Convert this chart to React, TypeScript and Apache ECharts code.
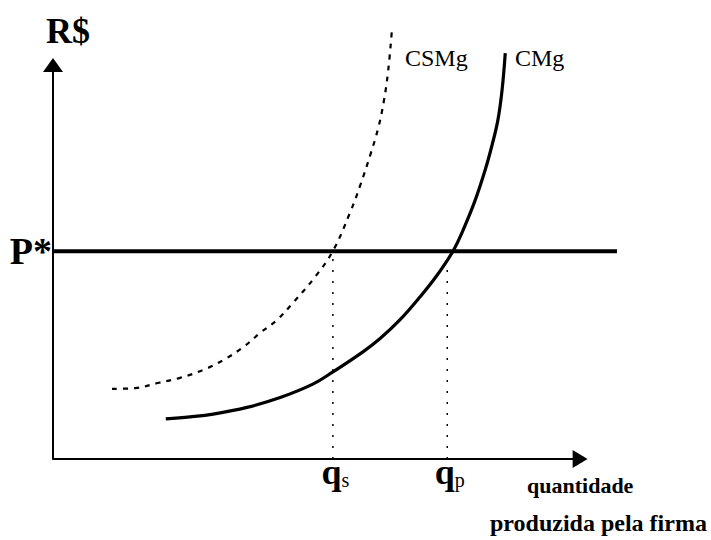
import React, { useEffect, useRef } from "react";
import * as echarts from "echarts";

// ---- data (abstract units) ----
const csmgX = [11.2, 15.6, 19.9, 24.1, 28.5, 32.3, 35.9, 39.3, 42.5, 45.5, 49.7, 53.1, 56.4, 58.3, 60.2, 61.7, 62.8, 63.6, 64.3];
const csmgY = [17.8, 18.0, 19.3, 20.6, 22.6, 25.1, 28.2, 32.0, 35.3, 39.6, 46.2, 52.8, 62.7, 69.5, 77.2, 84.0, 91.1, 98.7, 108.9];
const cmgX = [21.4, 26.0, 30.4, 36.8, 43.1, 49.3, 53.1, 58.8, 62.0, 65.8, 69.6, 72.9, 75.9, 77.8, 80.1, 82.0, 83.3, 84.4, 85.2, 85.8];
const cmgY = [10.2, 10.7, 11.4, 13.1, 15.6, 19.0, 22.1, 27.2, 30.5, 35.3, 41.1, 46.7, 52.8, 58.1, 65.7, 73.4, 79.7, 86.0, 93.7, 103.0];
const P_STAR = 52.7;
const Q_S = 53.1;
const Q_P = 74.8;
const X_AXIS_END = 100;
const PRICE_LINE_END = 107;
const xTickValues = [Q_S, Q_P];
const xTickLabels = ["{q|q}{s|s}", "{q|q}{s|p}"];
const yTickValues = [P_STAR];
const yTickLabels = ["P*"];
const curveNames = ["CSMg", "CMg"];
const yAxisTitle = "R$";
const xAxisTitle = ["quantidade", "produzida pela firma"];

const SERIF = '"Liberation Serif", "DejaVu Serif", serif';

const zip = (xs: number[], ys: number[]) => xs.map((x, i) => [x, ys[i]]);

export default function App() {
  const ref = useRef<HTMLDivElement>(null);
  useEffect(() => {
    if (!ref.current) return;
    const chart = echarts.init(ref.current, undefined, { renderer: "svg" });
    chart.setOption({
      animation: false,
      backgroundColor: "#fff",
      grid: { left: 53, right: 94, top: 65, bottom: 81 },
      xAxis: {
        type: "value",
        min: 0,
        max: PRICE_LINE_END,
        splitLine: { show: false },
        axisTick: { show: false },
        axisLine: { show: false },
        axisLabel: {
          customValues: xTickValues,
          formatter: (v: number) => xTickLabels[xTickValues.indexOf(v)] ?? "",
          margin: -5,
          color: "#000",
          rich: {
            q: { fontSize: 36, fontWeight: "bold", fontFamily: SERIF, lineHeight: 36, color: "#000", padding: [0, 0, 0, 5] },
            s: { fontSize: 20, fontFamily: SERIF, lineHeight: 20, verticalAlign: "bottom", color: "#000" },
          },
        },
      },
      yAxis: {
        type: "value",
        min: 0,
        max: 100,
        splitLine: { show: false },
        axisTick: { show: false },
        axisLine: {
          show: true,
          symbol: ["none", "triangle"],
          symbolSize: [20, 14],
          lineStyle: { color: "#000", width: 2 },
        },
        axisLabel: {
          customValues: yTickValues,
          formatter: (v: number) => yTickLabels[yTickValues.indexOf(v)] ?? "",
          margin: 1,
          color: "#000",
          fontSize: 38,
          fontWeight: "bold",
          fontFamily: SERIF,
          padding: [8, 0, 0, 0],
        },
      },
      series: [
        {
          // x axis line with arrow
          type: "line",
          data: [],
          symbol: "none",
          markLine: {
            silent: true,
            animation: false,
            symbol: ["none", "triangle"],
            symbolSize: [18, 15],
            label: { show: false },
            lineStyle: { color: "#000", width: 2, type: "solid" },
            emphasis: { disabled: true },
            data: [[{ coord: [0, 0] }, { coord: [X_AXIS_END, 0] }]],
          },
        },
        {
          type: "line",
          data: [[0, P_STAR], [PRICE_LINE_END, P_STAR]],
          symbol: "none",
          clip: false,
          lineStyle: { color: "#000", width: 4 },
          z: 3,
        },
        {
          type: "line",
          data: [[Q_S, 0], [Q_S, P_STAR]],
          symbol: "none",
          clip: false,
          lineStyle: { color: "#000", width: 1.5, type: [2, 9] },
        },
        {
          type: "line",
          data: [[Q_P, 0], [Q_P, P_STAR]],
          symbol: "none",
          clip: false,
          lineStyle: { color: "#000", width: 1.5, type: [2, 9] },
        },
        {
          name: curveNames[0],
          type: "line",
          data: zip(csmgX, csmgY),
          symbol: "none",
          smooth: 0.4,
          clip: false,
          lineStyle: { color: "#000", width: 2.2, type: [5, 6] },
        },
        {
          name: curveNames[1],
          type: "line",
          data: zip(cmgX, cmgY),
          symbol: "none",
          smooth: 0.4,
          clip: false,
          lineStyle: { color: "#000", width: 3.2 },
        },
      ],
      graphic: [
        {
          type: "text",
          x: 46,
          y: 31,
          style: { text: yAxisTitle, font: `bold 36px ${SERIF}`, fill: "#000", textVerticalAlign: "middle" },
        },
        {
          type: "text",
          x: 405,
          y: 58,
          style: { text: curveNames[0], font: `24px ${SERIF}`, fill: "#000", textVerticalAlign: "middle" },
        },
        {
          type: "text",
          x: 515,
          y: 58,
          style: { text: curveNames[1], font: `24px ${SERIF}`, fill: "#000", textVerticalAlign: "middle" },
        },
        {
          type: "text",
          x: 527,
          y: 485,
          style: { text: xAxisTitle[0], font: `bold 22px ${SERIF}`, fill: "#000", textVerticalAlign: "middle" },
        },
        {
          type: "text",
          x: 490,
          y: 523,
          style: { text: xAxisTitle[1], font: `bold 24px ${SERIF}`, fill: "#000", textVerticalAlign: "middle" },
        },
      ],
    });
    return () => chart.dispose();
  }, []);
  return (
    <div
      ref={ref}
      style={{ position: "fixed", left: 0, top: 0, width: 711, height: 540, background: "#fff" }}
    />
  );
}
